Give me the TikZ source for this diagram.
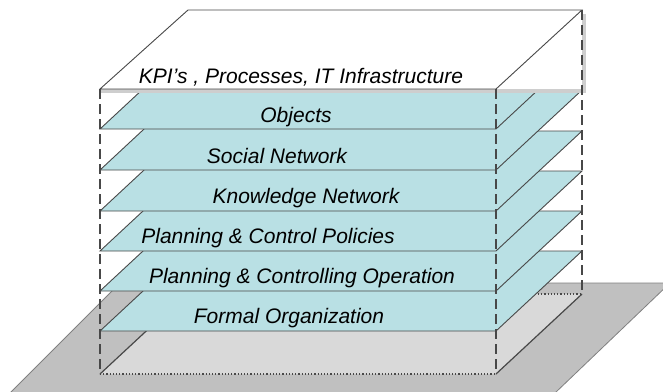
\documentclass[tikz,border=0pt]{standalone}
\usepackage{fontspec}
\setmainfont{Liberation Sans}
\usetikzlibrary{calc}

\definecolor{layercyan}{RGB}{185,224,228}
\definecolor{basegray}{RGB}{192,192,192}
\definecolor{floorgray}{RGB}{217,217,217}
\definecolor{edgegray}{RGB}{72,72,72}
\definecolor{shadowgray}{RGB}{206,206,206}

\begin{document}
\begin{tikzpicture}[
    x=1pt, y=-1pt,            % pixel-like units, y going down
    ]
% -------------------------------------------------
\tikzset{
  layer/.style={draw=edgegray, line width=0.9pt, fill=layercyan},
  ground/.style={draw=gray, line width=0.8pt, fill=basegray},
  floor/.style={fill=floorgray},
  rim/.style={draw=edgegray, line width=1.2pt},
  pillar/.style={draw=edgegray, line width=2pt, dash pattern=on 10pt off 5pt},
  txt/.style={anchor=base, inner sep=0pt, font=\fontsize{21}{24}\selectfont\itshape}
}
% -------------------------------------------------
\useasboundingbox (0,0) rectangle (663,391);

% ground plate and floor
\filldraw[ground] (120,283) -- (670,283) -- (555,393) -- (10,393) -- cycle;
\fill[floor] (100,374) -- (496,374) -- (582,294) -- (186,294) -- cycle;
\draw[rim] (100,374) -- (186,294);
\draw[rim] (496,374) -- (582,294);
\draw[rim, dotted] (100,374) -- (496,374);
\draw[rim, dotted] (186,294) -- (582,294);

% the layers, bottom first
\filldraw[layer] (100,331) -- ++(396,0) -- ++(86,-80) -- ++(-396,0) -- cycle;
\filldraw[layer] (100,291) -- ++(396,0) -- ++(86,-80) -- ++(-396,0) -- cycle;
\filldraw[layer] (100,251) -- ++(396,0) -- ++(86,-80) -- ++(-396,0) -- cycle;
\filldraw[layer] (100,211) -- ++(396,0) -- ++(86,-80) -- ++(-396,0) -- cycle;
\filldraw[layer] (100,170) -- ++(396,0) -- ++(86,-80) -- ++(-396,0) -- cycle;
\filldraw[layer] (100,129) -- ++(396,0) -- ++(86,-80) -- ++(-396,0) -- cycle;

% roof with its shadow
\fill[shadowgray] (100,14) rectangle (586,93);
\fill[white] (100,10) rectangle (582,89);
\draw[edgegray, line width=0.9pt] (100,89) -- (496,89) -- (582,10) -- (188,10) -- cycle;

% corner posts
\draw[pillar] (100,89) -- (100,374);
\draw[pillar] (496,89) -- (496,374);
\draw[pillar] (582,10) -- (582,294);

% texts
\node[txt] (t0) at (301,83) {KPI’s , Processes, IT Infrastructure};
\node[txt] (t1) at (296,122) {Objects};
\node[txt] (t2) at (277,163) {Social Network};
\node[txt] (t3) at (306,203) {Knowledge Network};
\node[txt] (t4) at (268,243) {Planning \& Control Policies};
\node[txt] (t5) at (302,283) {Planning \& Controlling Operation};
\node[txt] (t6) at (289,323) {Formal Organization};

\end{tikzpicture}
\end{document}
